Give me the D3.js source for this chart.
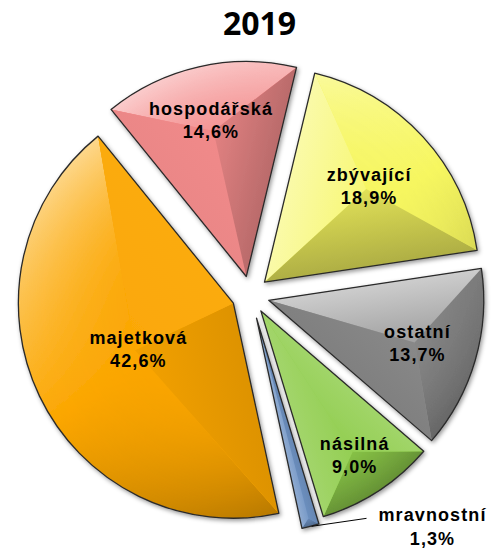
<!DOCTYPE html>
<html>
<head>
<meta charset="utf-8">
<script src="https://cdn.jsdelivr.net/npm/d3@7"></script>
<style>
  body { margin: 0; background: #fff; }
  svg { display: block; }
</style>
</head>
<body>
<div id="chart"></div>
<script>
const title = "2019";
const categories = ["hospodářská", "zbývající", "ostatní", "násilná", "mravnostní", "majetková"];
const values = [14.6, 18.9, 13.7, 9.0, 1.3, 42.6];
const colors = ["#f38b8b", "#f6f660", "#8c8c8c", "#8ecc4a", "#6f93c4", "#fba600"];

const width = 491;
const height = 550;
const cx = 250.5;
const cy = 295;
const radius = 215;
const explode = [19, 19, 19, 19, 24, 19];
const labelDist = [0.745, 0.66, 0.72, 0.8, null, 0.49]; // fraction of radius, null = outside
const light = [-0.55, -0.835]; // light comes from top-left

const fmt = (v) => v.toFixed(1).replace(".", ",") + "%";

function shade(color, t) {
  if (t >= 0) return d3.interpolateRgb(color, "#ffffff")(t * 0.62);
  return d3.interpolateRgb(color, "#000000")(-t * 0.32);
}

const svg = d3
  .select("#chart")
  .append("svg")
  .attr("width", width)
  .attr("height", height);

svg.append("rect").attr("width", width).attr("height", height).attr("fill", "#fff");

const defs = svg.append("defs");
const shadow = defs
  .append("filter")
  .attr("id", "shadow")
  .attr("x", "-20%")
  .attr("y", "-20%")
  .attr("width", "140%")
  .attr("height", "140%");
shadow
  .append("feDropShadow")
  .attr("dx", 1.5)
  .attr("dy", 2)
  .attr("stdDeviation", 2)
  .attr("flood-color", "#000")
  .attr("flood-opacity", 0.4);

svg
  .append("text")
  .attr("x", 259.5)
  .attr("y", 35)
  .attr("text-anchor", "middle")
  .attr("font-family", "'Open Sans', 'DejaVu Sans', sans-serif")
  .attr("font-weight", 700)
  .attr("font-size", 32)
  .text(title);

const startAngle = (-39 * Math.PI) / 180;
const pie = d3
  .pie()
  .sort(null)
  .startAngle(startAngle)
  .endAngle(startAngle + 2 * Math.PI);

const arcs = pie(values);
const arc = d3.arc().innerRadius(0).outerRadius(radius);

const slices = svg
  .selectAll("g.slice")
  .data(arcs)
  .enter()
  .append("g")
  .attr("class", "slice")
  .attr("transform", (d, i) => {
    const mid = (d.startAngle + d.endAngle) / 2;
    const x = cx + explode[i] * Math.sin(mid);
    const y = cy - explode[i] * Math.cos(mid);
    return `translate(${x},${y})`;
  })
  .attr("filter", "url(#shadow)");

slices.each(function (d, i) {
  const g = d3.select(this);
  const a0 = d.startAngle;
  const a1 = d.endAngle;
  const mid = (a0 + a1) / 2;
  const c0 = [radius * Math.sin(a0), -radius * Math.cos(a0)];
  const c1 = [radius * Math.sin(a1), -radius * Math.cos(a1)];
  const dI = radius / (1 + Math.sin((a1 - a0) / 2));
  const inner = [dI * Math.sin(mid), -dI * Math.cos(mid)];
  const base = colors[i];

  g.append("path").attr("d", arc(d)).attr("fill", base);

  // curved outer facet: colour follows the outward direction, strength grows to the rim
  const gradId = "grad" + i;
  const grad = defs
    .append("linearGradient")
    .attr("id", gradId)
    .attr("gradientUnits", "userSpaceOnUse")
    .attr("x1", radius * light[0])
    .attr("y1", radius * light[1])
    .attr("x2", -radius * light[0])
    .attr("y2", -radius * light[1]);
  grad.append("stop").attr("offset", "0%").attr("stop-color", shade(base, 0.9));
  grad.append("stop").attr("offset", "50%").attr("stop-color", shade(base, 0));
  grad.append("stop").attr("offset", "100%").attr("stop-color", shade(base, -0.9));

  const rg = defs
    .append("radialGradient")
    .attr("id", "rim" + i)
    .attr("gradientUnits", "userSpaceOnUse")
    .attr("cx", 0)
    .attr("cy", 0)
    .attr("r", radius);
  rg.append("stop").attr("offset", dI / radius).attr("stop-color", "#3a3a3a");
  rg.append("stop").attr("offset", 1).attr("stop-color", "#ffffff");

  const p = d3.path();
  p.moveTo(inner[0], inner[1]);
  p.lineTo(c0[0], c0[1]);
  p.arc(0, 0, radius, a0 - Math.PI / 2, a1 - Math.PI / 2);
  p.closePath();

  const mask = defs.append("mask").attr("id", "mask" + i).attr("maskUnits", "userSpaceOnUse")
    .attr("x", -radius - 5).attr("y", -radius - 5)
    .attr("width", 2 * radius + 10).attr("height", 2 * radius + 10);
  mask.append("path").attr("d", p.toString()).attr("fill", `url(#rim${i})`);

  g.append("path")
    .attr("d", p.toString())
    .attr("fill", `url(#${gradId})`)
    .attr("mask", `url(#mask${i})`);

  // straight edge facets, strongest at the edge and fading toward the ridge
  const edges = [
    { c: c0, n: [-Math.cos(a0), -Math.sin(a0)] },
    { c: c1, n: [Math.cos(a1), Math.sin(a1)] },
  ];
  edges.forEach((e, k) => {
    const t = e.n[0] * light[0] + e.n[1] * light[1];
    // foot of the perpendicular from the ridge point to the edge
    const len = Math.hypot(e.c[0], e.c[1]);
    const ux = e.c[0] / len;
    const uy = e.c[1] / len;
    const proj = inner[0] * ux + inner[1] * uy;
    const fx = proj * ux;
    const fy = proj * uy;
    const id = `edge${i}_${k}`;
    const eg = defs
      .append("linearGradient")
      .attr("id", id)
      .attr("gradientUnits", "userSpaceOnUse")
      .attr("x1", fx)
      .attr("y1", fy)
      .attr("x2", inner[0])
      .attr("y2", inner[1]);
    eg.append("stop").attr("offset", 0).attr("stop-color", shade(base, t)).attr("stop-opacity", 1);
    eg.append("stop").attr("offset", 1).attr("stop-color", shade(base, t)).attr("stop-opacity", 0.3);
    g.append("path")
      .attr("d", `M0,0L${e.c[0]},${e.c[1]}L${inner[0]},${inner[1]}Z`)
      .attr("fill", `url(#${id})`);
  });

  g.append("path")
    .attr("d", arc(d))
    .attr("fill", "none")
    .attr("stroke", "#2a2a2a")
    .attr("stroke-width", 1.3)
    .attr("stroke-linejoin", "round");
});

// labels
const labelFont = "'Liberation Sans', Arial, sans-serif";
arcs.forEach((d, i) => {
  const mid = (d.startAngle + d.endAngle) / 2;
  const ax = cx + explode[i] * Math.sin(mid);
  const ay = cy - explode[i] * Math.cos(mid);
  let lx, ly, gap = 23;
  if (labelDist[i] !== null) {
    lx = ax + labelDist[i] * radius * Math.sin(mid);
    ly = ay - labelDist[i] * radius * Math.cos(mid) - 11.5;
  } else {
    const ox = ax + radius * Math.sin(mid);
    const oy = ay - radius * Math.cos(mid);
    svg
      .append("path")
      .attr("d", `M${ox + 1},${oy}L${ox + 56},${oy - 8}`)
      .attr("stroke", "#000")
      .attr("stroke-width", 1)
      .attr("fill", "none");
    lx = ox + 122;
    ly = oy - 12;
    gap = 24;
  }
  const t = svg
    .append("text")
    .attr("text-anchor", "middle")
    .attr("font-family", labelFont)
    .attr("font-weight", 700)
    .attr("font-size", 18)
    .attr("letter-spacing", 1.1)
    .attr("fill", "#000");
  t.append("tspan").attr("x", lx).attr("y", ly + 6.5).text(categories[i]);
  t.append("tspan").attr("x", lx).attr("y", ly + 6.5 + gap).text(fmt(values[i]));
});
</script>
</body>
</html>
